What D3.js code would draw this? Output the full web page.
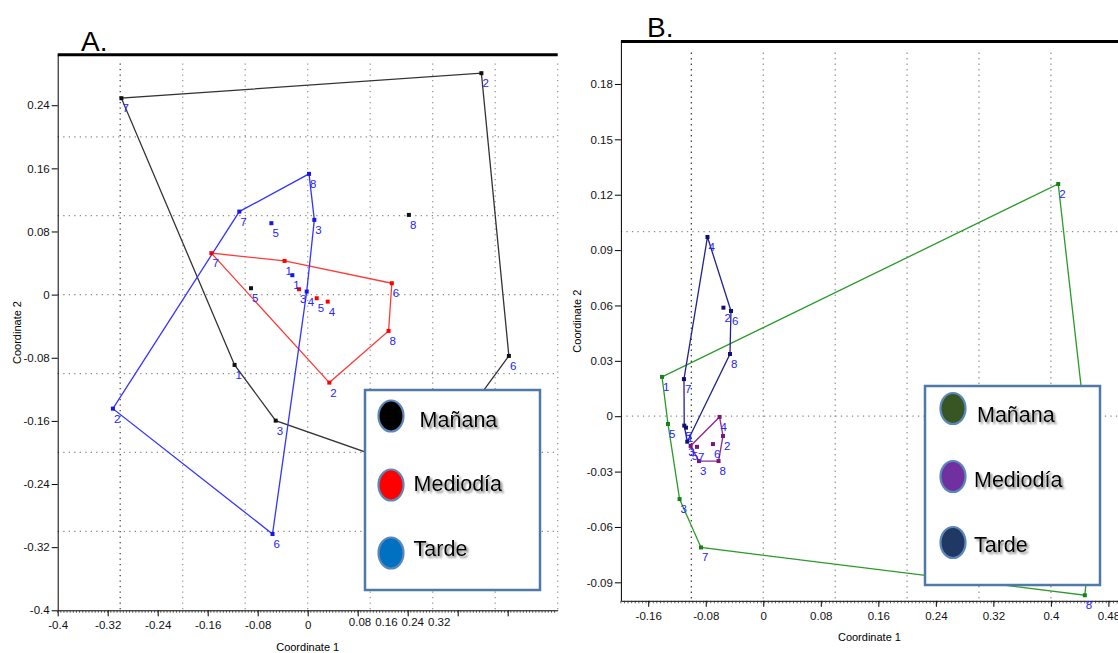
<!DOCTYPE html>
<html>
<head>
<meta charset="utf-8">
<script src="https://cdn.jsdelivr.net/npm/d3@7"></script>
<style>
  body { margin: 0; background: #fff; }
  svg { display: block; font-family: "Liberation Sans", Arial, sans-serif; }
</style>
</head>
<body>
<svg id="chart" width="1118" height="653"></svg>
<script>
"use strict";
const categories = ["Mañana", "Mediodía", "Tarde"];

// Panel A  (id, coordinate 1, coordinate 2)
const mananaA = [
  { id: "1", x: -0.117, y: -0.0891 }, { id: "2", x: 0.2779, y: 0.2806 },
  { id: "3", x: -0.0512, y: -0.1597 }, { id: "4", x: 0.1854, y: -0.2253 },
  { id: "5", x: -0.0907, y: 0.0081 }, { id: "6", x: 0.3219, y: -0.0777 },
  { id: "7", x: -0.2981, y: 0.2489 }, { id: "8", x: 0.1619, y: 0.1010 }
];
const mediodiaA = [
  { id: "1", x: -0.0370, y: 0.0427 }, { id: "2", x: 0.0346, y: -0.1115 },
  { id: "3", x: -0.0139, y: 0.0068 }, { id: "4", x: 0.0320, y: -0.0089 },
  { id: "5", x: 0.0144, y: -0.0046 }, { id: "6", x: 0.1346, y: 0.0144 },
  { id: "7", x: -0.1541, y: 0.0525 }, { id: "8", x: 0.1294, y: -0.0460 }
];
const tardeA = [
  { id: "1", x: -0.0246, y: 0.0246 }, { id: "2", x: -0.3117, y: -0.1445 },
  { id: "3", x: 0.0106, y: 0.0947 }, { id: "4", x: -0.0016, y: 0.0038 },
  { id: "5", x: -0.0581, y: 0.0905 }, { id: "6", x: -0.0563, y: -0.3033 },
  { id: "7", x: -0.1094, y: 0.1052 }, { id: "8", x: 0.0021, y: 0.1530 }
];

// Panel B
const mananaB = [
  { id: "1", x: -0.1408, y: 0.0213 }, { id: "2", x: 0.4102, y: 0.1258 },
  { id: "3", x: -0.1164, y: -0.0449 }, { id: "4", x: 0.4600, y: -0.0460 },
  { id: "5", x: -0.1325, y: -0.0042 }, { id: "7", x: -0.0866, y: -0.0711 },
  { id: "8", x: 0.4472, y: -0.0970 }
];
const mediodiaB = [
  { id: "2", x: -0.0560, y: -0.0107 }, { id: "3", x: -0.0894, y: -0.0243 },
  { id: "4", x: -0.0608, y: -0.0004 }, { id: "5", x: -0.1010, y: -0.0161 },
  { id: "6", x: -0.0700, y: -0.0151 }, { id: "7", x: -0.0922, y: -0.0166 },
  { id: "8", x: -0.0622, y: -0.0243 }
];
const tardeB = [
  { id: "1", x: -0.1075, y: -0.0062 }, { id: "2", x: -0.0554, y: 0.0588 },
  { id: "3", x: -0.1057, y: -0.0138 }, { id: "4", x: -0.0776, y: 0.0971 },
  { id: "5", x: -0.1099, y: -0.0051 }, { id: "6", x: -0.0449, y: 0.0570 },
  { id: "7", x: -0.1103, y: 0.0201 }, { id: "8", x: -0.0463, y: 0.0337 }
];

// ticks and grid
const xTicksA = [-0.4, -0.32, -0.24, -0.16, -0.08, 0, 0.08, 0.16, 0.24, 0.32];
const yTicksA = [0.24, 0.16, 0.08, 0, -0.08, -0.16, -0.24, -0.32, -0.4];
const xGridA = [-0.3, -0.2, -0.1, 0, 0.1, 0.2, 0.3, 0.4];
const yGridA = [0.2, 0.1, 0, -0.1, -0.2, -0.3];
const xTicksB = [-0.16, -0.08, 0, 0.08, 0.16, 0.24, 0.32, 0.4, 0.48];
const yTicksB = [0.18, 0.15, 0.12, 0.09, 0.06, 0.03, 0, -0.03, -0.06, -0.09];
const xGridB = [-0.1, 0, 0.1, 0.2, 0.3, 0.4];
const yGridB = [0.1, 0];

const svg = d3.select('#chart');
const shadow = svg.append('defs').append('filter').attr('id', 'shadow')
  .attr('x', '-10%').attr('y', '-20%').attr('width', '130%').attr('height', '160%');
shadow.append('feDropShadow').attr('dx', 2).attr('dy', 2)
  .attr('stdDeviation', 1.3).attr('flood-color', '#666').attr('flood-opacity', 0.8);

const drawPanel = (p) => {
  const g = svg.append('g');
  const x = d3.scaleLinear().domain(p.xDomain).range(p.xRange);
  const y = d3.scaleLinear().domain(p.yDomain).range(p.yRange);
  const bottom = y(p.yDomain[0]);
  const L = p.legend;
  const inLegend = (px, py) => px > L.x && px < L.x + L.w && py > L.y && py < L.y + L.h;

  // dotted grid
  g.selectAll('.vg').data(p.xGrid).join('line')
    .attr('x1', d => x(d)).attr('x2', d => x(d))
    .attr('y1', y(p.gridTop)).attr('y2', bottom)
    .attr('stroke', d => p.darkGrid.includes(d) ? '#444' : '#999')
    .attr('stroke-width', 1.3).attr('stroke-dasharray', '1.3,4.2');
  g.selectAll('.hg').data(p.yGrid).join('line')
    .attr('x1', p.xRange[0]).attr('x2', p.xRange[1])
    .attr('y1', d => y(d)).attr('y2', d => y(d))
    .attr('stroke', '#8a8a8a').attr('stroke-width', 1.3).attr('stroke-dasharray', '1.3,4.2');

  // axes
  const yAxis = g.append('g').attr('transform', `translate(${p.xRange[0]},0)`)
    .call(d3.axisLeft(y).tickValues(p.yTicks).tickSize(6).tickSizeOuter(0).tickPadding(2).tickFormat(d => String(d)));
  const xAxis = g.append('g').attr('transform', `translate(0,${bottom})`)
    .call(d3.axisBottom(x).tickValues(p.xTicks).tickSize(6).tickSizeOuter(0).tickPadding(5)
      .tickFormat(d => (p.squeeze && d > 0) ? '' : String(d)));
  [yAxis, xAxis].forEach(a => {
    a.attr('font-size', 11.5).attr('font-family', null);
    a.selectAll('text').attr('fill', '#111');
  });
  // minor ticks along the x axis
  g.selectAll('.mt').data(d3.range(p.xDomain[0], p.xDomain[1], p.minorStep)).join('line')
    .attr('x1', d => x(d)).attr('x2', d => x(d))
    .attr('y1', bottom).attr('y2', bottom + 2.5)
    .attr('stroke', '#333').attr('stroke-width', 0.8);
  if (p.squeeze) {
    const pos = p.xTicks.filter(d => d > 0);
    const lx = d3.scaleLinear().domain([pos[0], pos[pos.length - 1]])
      .range([x(pos[0]) + 2.3, x(pos[0]) + 2.3 + 26.4 * (pos.length - 1)]);
    g.selectAll('.sq').data(pos).join('text')
      .attr('x', d => lx(d)).attr('y', bottom + 15.5)
      .attr('text-anchor', 'middle').attr('font-size', 11.5).attr('fill', '#111')
      .text(d => String(d));
  }
  // heavy top border
  g.append('line').attr('x1', p.xRange[0]).attr('x2', p.xRange[1])
    .attr('y1', p.yRange[1]).attr('y2', p.yRange[1])
    .attr('stroke', '#000').attr('stroke-width', 3);

  // axis titles and panel letter
  g.append('text').attr('x', (p.xRange[0] + Math.min(p.xRange[1], 1118)) / 2).attr('y', p.xTitleY)
    .attr('text-anchor', 'middle').attr('font-size', 11).text('Coordinate 1');
  g.append('text').attr('transform', `translate(${p.yTitleX},${(bottom + p.yRange[1]) / 2}) rotate(-90)`)
    .attr('text-anchor', 'middle').attr('font-size', 11).text('Coordinate 2');
  g.append('text').attr('x', p.letter[1]).attr('y', p.letter[2])
    .attr('font-size', 28).text(p.letter[0]);

  // convex hulls, points, labels
  const line = d3.line().curve(d3.curveLinearClosed);
  p.series.forEach(s => {
    const hull = d3.polygonHull(s.data.map(d => [x(d.x), y(d.y)]));
    g.append('path').attr('d', line(hull)).attr('fill', 'none')
      .attr('stroke', s.line).attr('stroke-width', 1.3);
  });
  p.series.forEach(s => {
    g.selectAll(null).data(s.data).join('rect')
      .attr('x', d => x(d.x) - 2).attr('y', d => y(d.y) - 2)
      .attr('width', 4).attr('height', 4).attr('fill', s.point);
    // labels of points hidden under the legend box are not drawn
    g.selectAll(null).data(s.data.filter(d => !inLegend(x(d.x), y(d.y)))).join('text')
      .attr('x', d => x(d.x) + 1).attr('y', d => y(d.y) + 14)
      .attr('font-size', 11.5).attr('fill', '#2424ff')
      .text(d => d.id);
  });

  // legend
  g.append('rect').attr('x', L.x).attr('y', L.y).attr('width', L.w).attr('height', L.h)
    .attr('fill', '#fff').attr('stroke', '#4f79a6').attr('stroke-width', 2.5);
  const items = g.selectAll('.lg').data(categories).join('g');
  items.append('ellipse')
    .attr('cx', L.cx).attr('cy', (d, i) => L.cy[i])
    .attr('rx', 12.5).attr('ry', 15.5)
    .attr('fill', (d, i) => L.colors[i]).attr('stroke', '#5b88ba').attr('stroke-width', 2.2);
  items.append('text')
    .attr('x', (d, i) => L.tx[i]).attr('y', (d, i) => L.ty[i])
    .attr('font-size', 21.5).attr('fill', '#000').attr('filter', 'url(#shadow)')
    .text(d => d);
};

drawPanel({
  xDomain: [-0.4, 0.4], xRange: [57.7, 557.7],
  yDomain: [-0.4, 0.304], yRange: [610.3, 54.7],
  xTicks: xTicksA, yTicks: yTicksA, xGrid: xGridA, yGrid: yGridA,
  gridTop: 0.293, darkGrid: [-0.3], minorStep: 0.005, squeeze: true,
  xTitleY: 651, yTitleX: 21, letter: ['A.', 81, 50.5],
  series: [
    { data: mananaA, line: '#333', point: '#111' },
    { data: mediodiaA, line: '#ff3a3a', point: '#f00' },
    { data: tardeA, line: '#3535ff', point: '#1515f0' }
  ],
  legend: {
    x: 365, y: 390, w: 175, h: 200, cx: 391, cy: [416, 485, 553],
    tx: [419.6, 413.6, 413.6], ty: [427, 490.5, 555.5],
    colors: ['#000', '#ff0000', '#0070c0']
  }
});

drawPanel({
  xDomain: [-0.198, 0.5], xRange: [620.9, 1122.8],
  yDomain: [-0.1, 0.203], yRange: [600.8, 41.5],
  xTicks: xTicksB, yTicks: yTicksB, xGrid: xGridB, yGrid: yGridB,
  gridTop: 0.197, darkGrid: [-0.1], minorStep: 0.005, squeeze: false,
  xTitleY: 641, yTitleX: 581, letter: ['B.', 647, 36.5],
  series: [
    { data: mananaB, line: '#2a9a2a', point: '#178017' },
    { data: mediodiaB, line: '#902a90', point: '#7a157a' },
    { data: tardeB, line: '#22228c', point: '#10106e' }
  ],
  legend: {
    x: 925, y: 386, w: 175, h: 199, cx: 953, cy: [408.5, 476.5, 542.5],
    tx: [977, 974, 974], ty: [422, 487, 552],
    colors: ['#375623', '#7030a0', '#1f3864']
  }
});
</script>
</body>
</html>
